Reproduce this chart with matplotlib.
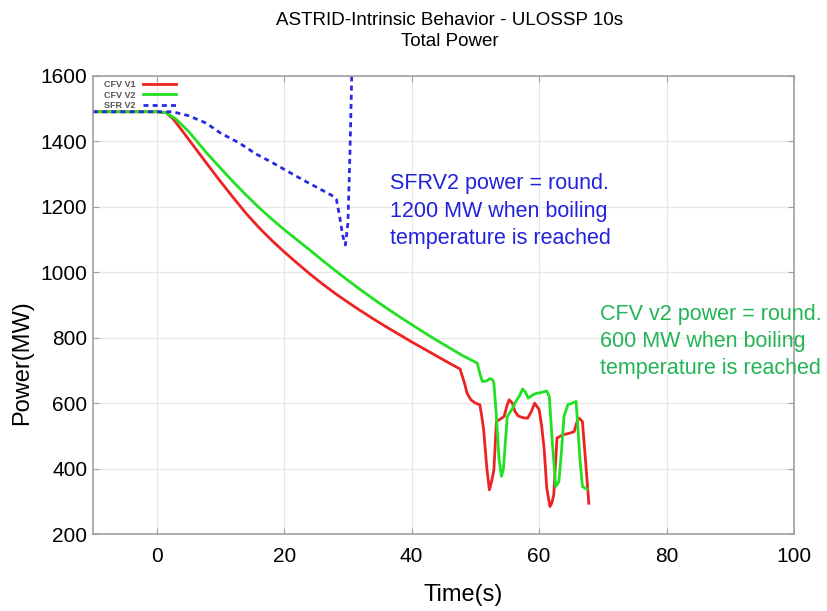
import numpy as np
import matplotlib
matplotlib.use("Agg")
import matplotlib.pyplot as plt

# CFV V1 (red)
t_v1 = [-10, 0, 1.5, 2.5, 4, 6, 8, 10, 12, 14, 16, 18, 20, 22, 24, 26, 28, 30, 32,
        34, 36, 38, 40, 42, 44, 46, 47.6,
        48.3, 48.7, 49.3, 50.0, 50.7, 51.0, 51.3, 51.8, 52.2, 52.6, 52.9, 53.3,
        54.5, 55.0, 55.3, 55.8, 56.2, 56.7, 57.5, 58.2, 58.8, 59.3, 60.0, 60.4, 60.8,
        61.2, 61.7, 62.0, 62.3, 62.8, 63.7, 64.8, 65.5, 65.9, 66.2, 66.5, 66.8, 67.3, 67.8]
p_v1 = [1490, 1490, 1487, 1470, 1432, 1380, 1328, 1277, 1228, 1180, 1137, 1098, 1062,
        1028, 995, 964, 935, 908, 882, 857, 833, 810, 787, 765, 743, 721, 704,
        660, 630, 610, 600, 595, 560, 518, 400, 335, 365, 396, 543,
        559, 595, 610, 600, 575, 561, 555, 554, 575, 600, 580, 530, 457,
        340, 284, 295, 320, 493, 503, 508, 513, 540, 554, 550, 543, 420, 294]

# CFV V2 (green)
t_v2 = [-10, 0, 1.5, 3, 5, 7.8, 10, 12, 14, 16, 18, 20, 22, 24, 26, 28, 30, 32, 34,
        36, 38, 40, 42, 44, 46, 48, 50.3, 50.7, 51.1, 51.8, 52.3, 52.7, 52.9, 53.3,
        53.7, 54.1, 54.4, 55.0, 55.7, 56.5, 57.0, 57.4, 57.8, 58.3, 59.0, 59.6, 60.3,
        60.8, 61.2, 61.6, 62.0, 62.6, 63.1, 63.5, 63.9, 64.5, 65.2, 65.8, 66.0, 66.4,
        66.8, 67.5]
p_v2 = [1490, 1490, 1487, 1468, 1430, 1365, 1318, 1276, 1236, 1198, 1163, 1130, 1099,
        1068, 1036, 1005, 975, 946, 918, 891, 865, 840, 815, 791, 768, 745, 722,
        690, 666, 668, 675, 671, 661, 560, 430, 376, 400, 559, 580, 610, 625, 643,
        635, 615, 625, 630, 632, 635, 637, 620, 500, 345, 360, 450, 559, 595, 600,
        605, 549, 430, 345, 337]

# SFR V2 (blue dotted)
t_sfr = [-10, 0, 2.5, 5, 7.8, 10, 13, 15.5, 18.3, 21, 23.5, 26, 27.7, 28.2, 28.7,
         29.2, 29.6, 30.0, 30.3, 30.6, 30.8]
p_sfr = [1490, 1490, 1490, 1478, 1455, 1425, 1394, 1362, 1333, 1303, 1276, 1250,
         1232, 1222, 1170, 1110, 1083, 1150, 1350, 1600, 1700]

labels = ["CFV V1", "CFV V2", "SFR V2"]
x_ticks = [0, 20, 40, 60, 80, 100]
y_ticks = [200, 400, 600, 800, 1000, 1200, 1400, 1600]

plt.rcParams["font.family"] = ["Liberation Sans", "DejaVu Sans"]

fig = plt.figure(figsize=(8.28, 6.11), dpi=100)
ax = fig.add_axes([0.1123, 0.126, 0.8467, 0.75])

ax.plot(t_v1, p_v1, color="#ee2222", lw=2, label=labels[0])
ax.plot(t_v2, p_v2, color="#22e022", lw=2, label=labels[1])
ax.plot(t_sfr, p_sfr, color="#2a2ae0", lw=2, linestyle=(0, (1.8, 1.5)), label=labels[2])

ax.set_xlim(-10, 100)
ax.set_ylim(200, 1600)
ax.set_xticks(x_ticks)
ax.set_yticks(y_ticks)
ax.grid(True, color="#e8e8e8", lw=0.9)
ax.set_axisbelow(True)
for s in ax.spines.values():
    s.set_color("#a0a0a0")
    s.set_linewidth(1.2)
ax.tick_params(direction="in", length=4, color="#a0a0a0", top=True, right=True,
               labelsize=15)
ax.tick_params(axis="x", pad=9)
ax.tick_params(axis="y", pad=4)

ax.set_xlabel("Time(s)", fontsize=17)
ax.set_ylabel("Power(MW)", fontsize=17)
ax.xaxis.set_label_coords(0.528, -0.11)
ax.yaxis.set_label_coords(-0.086, 0.375)
fig.text(0.543, 0.981, "ASTRID-Intrinsic Behavior - ULOSSP 10s\nTotal Power",
         ha="center", va="top", fontsize=13.5, linespacing=1.35)

ax.text(36.6, 1186, "SFRV2 power = round.\n1200 MW when boiling\ntemperature is reached",
        color="#2222dd", fontsize=15.5, va="center", ha="left", linespacing=1.4)
ax.text(69.6, 788, "CFV v2 power = round.\n600 MW when boiling\ntemperature is reached",
        color="#22b455", fontsize=15.5, va="center", ha="left", linespacing=1.4)

leg = ax.legend(loc="upper left", bbox_to_anchor=(0.005, 1.007), frameon=False,
                markerfirst=False, fontsize=6.5, handlelength=3.6, labelspacing=0.2,
                handletextpad=0.9, borderpad=0.3)
for txt in leg.get_texts():
    txt.set_color("#555555")
    txt.set_fontweight("bold")

fig.savefig("out.png", dpi=100)
